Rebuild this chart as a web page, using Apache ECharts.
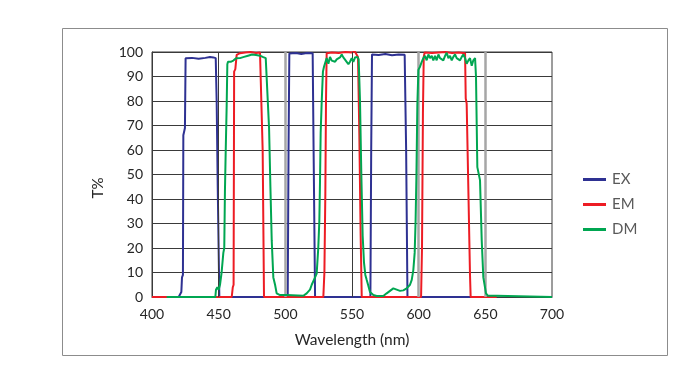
<!DOCTYPE html>
<html>
<head>
<meta charset="utf-8">
<script src="https://cdn.jsdelivr.net/npm/echarts@6/dist/echarts.min.js"></script>
<style>
html,body{margin:0;padding:0;background:#fff;}
#c{width:688px;height:373px;}
</style>
</head>
<body>
<div id="c"></div>
<script>
// ---- data ----
var xTicks = [400, 450, 500, 550, 600, 650, 700];
var yTicks = [0, 10, 20, 30, 40, 50, 60, 70, 80, 90, 100];
var darkGridX = [450, 550];
var grayGridX = [500, 600, 650];

var exWl = [420, 421.5, 422, 422.5, 423.2, 423.5, 424.7, 425.2, 430, 435, 440, 443.5, 446, 447.8, 448.5, 449.3, 450.5,
            501.8, 502.4, 503, 508, 512, 516, 520.5, 521.2, 522.3,
            563.8, 564.4, 565, 570, 575, 580, 585, 589.5, 590.6, 591.6, 650];
var exT  = [0, 0, 2, 8, 9, 66, 69, 97.4, 97.6, 97.2, 97.6, 98, 97.8, 97.5, 80, 45, 0,
            0, 60, 99.4, 99.6, 99.2, 99.6, 99.5, 60, 0,
            0, 60, 99, 98.8, 99.2, 98.7, 99, 98.9, 60, 0, 0];

var emWl = [400, 459.8, 460.6, 461.2, 461.6, 462.5, 463.5, 466, 470, 474, 478, 481, 482.3, 483, 484,
            528.5, 529.3, 530, 530.5, 531, 535, 540, 545, 550, 552, 553.5, 554.5, 555.5, 556.5, 557.3,
            601.8, 602.5, 603.2, 603.8, 604.5, 610, 615, 620, 625, 630, 634.8, 635.3, 636, 637.3, 638.5, 639, 658.5];
var emT  = [0, 0, 4, 5, 92, 93, 98.8, 99.5, 99.8, 100, 99.6, 99.8, 99.5, 60, 0,
            0, 10, 42, 80, 99.5, 99.8, 99.6, 100, 99.8, 100.3, 99.8, 98, 66, 25, 0,
            0, 20, 75, 98, 99.8, 99.6, 99.8, 100, 99.6, 99.8, 99.5, 81, 79, 43, 9, 0, 0];

var dmWl = [411, 447.5, 448, 449, 450, 451, 452.2, 453.5, 454.2, 454.7, 455.3, 456, 456.5, 457, 459, 461, 463, 466, 469,
            472, 475, 478, 481, 483, 485.3, 486.8, 487.8, 488.8, 489.8, 491, 492.3, 493.5, 494.8, 496, 501, 502,
            513.5, 516, 518.5, 519.8, 521, 522.3, 523.5, 524.7, 525.5, 526, 526.5, 527.3, 528.2, 529, 531, 532.3,
            533.5, 534.8, 536, 537.3, 538.5, 539.8, 541, 542.3, 543.5, 544.8, 546, 547.3, 548.5, 549.8, 551, 552.3,
            554, 555, 556, 557, 558, 559, 560, 561, 562.3, 563.5, 566, 568.5, 573.5, 576, 578.5, 581, 583.5, 586,
            588.5, 591, 593.5, 594.8, 596, 597, 597.7, 598.3, 599, 599.8, 601, 602.3, 603.5, 604.8, 606, 607.3,
            608.5, 609.8, 611, 612.3, 613.5, 614.8, 616, 617.3, 618.5, 619.8, 621, 622.3, 623.5, 624.8, 626, 627.3,
            628.5, 629.8, 631, 632.3, 633.5, 634.8, 636, 637.3, 638.5, 639.8, 641, 642.3, 643, 644, 646, 647.3,
            648.5, 650.5, 652, 658.5, 659, 700];
var dmT  = [0, 0, 3, 4, 3, 5, 10, 18, 20, 43, 60, 78, 95, 96, 96, 96.5, 97.4, 97.5, 98,
            98.5, 99, 98.8, 98.5, 98, 97.5, 97, 69, 45, 23, 8, 5, 1.5, 1.2, 0.8, 0.8, 0,
            0.5, 1.5, 3, 5, 6.5, 8, 9.5, 20, 31, 47, 67, 80, 92, 94, 97.5, 95.2,
            98, 96.5, 97, 96, 97, 97, 97.8, 99, 97.8, 97, 96, 95, 96, 97.5, 96, 97.8,
            98, 97, 80, 50, 25, 14, 9, 7, 4.5, 2, 0.8, 0.4, 0.4, 1.5, 2.5, 3.5, 3, 2.5,
            2.7, 3.5, 5, 7, 11, 18, 31, 49, 78, 92.7, 94, 96, 97.5, 98.4, 96.6, 99,
            97.5, 98.4, 96.6, 98.4, 96.6, 99, 97.5, 98, 96.6, 98.4, 99.7, 97.5, 98.4, 96.6, 98, 99,
            97.5, 98, 96.6, 98, 99, 97.5, 95.2, 96.6, 97.5, 94.4, 96.6, 97.5, 90, 53, 47.7, 23,
            8, 1.5, 0.5, 0.5, 0, 0];

var seriesNames = ['EX', 'EM', 'DM'];
var seriesColors = ['#2e3192', '#ed1c24', '#00a651'];

function zip(a, b) { return a.map(function (v, i) { return [v, b[i]]; }); }

var FONT = 'Lato';
var chart = echarts.init(document.getElementById('c'), null, {renderer: 'canvas'});

var vLines = darkGridX.map(function (v) {
  return {xAxis: v, lineStyle: {color: '#3a3a3a', width: 1, type: 'solid'}};
}).concat(grayGridX.map(function (v) {
  return {xAxis: v, lineStyle: {color: '#a6a6a6', width: 2.5, type: 'solid'}};
}));

chart.setOption({
  animation: false,
  backgroundColor: '#fff',
  grid: {left: 152, right: 136, top: 52, bottom: 76, show: true, borderColor: '#3a3a3a', borderWidth: 1},
  xAxis: {
    type: 'value', min: xTicks[0], max: xTicks[xTicks.length - 1], interval: 50,
    name: 'Wavelength (nm)', nameLocation: 'middle', nameGap: 35,
    nameTextStyle: {fontFamily: FONT, fontSize: 15.5, color: '#262626'},
    axisLine: {show: true, lineStyle: {color: '#3a3a3a', width: 1}},
    axisTick: {show: false},
    splitLine: {show: false},
    axisLabel: {fontFamily: FONT, fontSize: 14, color: '#262626', margin: 10}
  },
  yAxis: {
    type: 'value', min: yTicks[0], max: yTicks[yTicks.length - 1], interval: 10,
    axisLine: {show: true, lineStyle: {color: '#3a3a3a', width: 1}},
    axisTick: {show: false},
    splitLine: {show: true, lineStyle: {color: '#3a3a3a', width: 1}},
    axisLabel: {fontFamily: FONT, fontSize: 14, color: '#262626', margin: 9}
  },
  legend: {
    orient: 'vertical', left: 578, top: 167, itemGap: 10,
    itemWidth: 23, itemHeight: 3, icon: 'rect', itemStyle: {borderWidth: 0},
    textStyle: {fontFamily: FONT, fontSize: 15, color: '#595959', padding: [0, 0, 0, 1]},
    data: seriesNames
  },
  graphic: [
    {type: 'rect', silent: true, shape: {x: 62.5, y: 28.5, width: 605, height: 327},
     style: {fill: 'none', stroke: '#8c8c8c', lineWidth: 1}},
    {type: 'text', silent: true, x: 98, y: 188, rotation: Math.PI / 2,
     style: {text: 'T%', fontFamily: FONT, fontSize: 15, fill: '#262626', align: 'center', verticalAlign: 'middle'}}
  ],
  series: [
    {type: 'line', name: '_grid', data: [], silent: true, z: 1, symbol: 'none',
     markLine: {silent: true, symbol: 'none', label: {show: false}, data: vLines}},
    {type: 'line', name: seriesNames[0], data: zip(exWl, exT), symbol: 'none', z: 3,
     lineStyle: {color: seriesColors[0], width: 2}, itemStyle: {color: seriesColors[0]}},
    {type: 'line', name: seriesNames[1], data: zip(emWl, emT), symbol: 'none', z: 4,
     lineStyle: {color: seriesColors[1], width: 2}, itemStyle: {color: seriesColors[1]}},
    {type: 'line', name: seriesNames[2], data: zip(dmWl, dmT), symbol: 'none', z: 5,
     lineStyle: {color: seriesColors[2], width: 2}, itemStyle: {color: seriesColors[2]}}
  ]
});
</script>
</body>
</html>
